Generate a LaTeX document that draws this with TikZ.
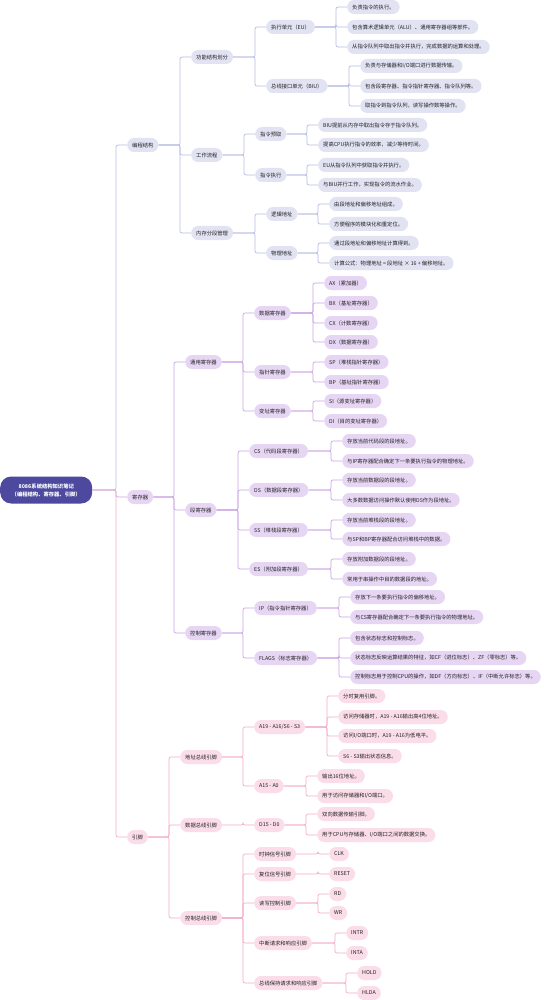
\documentclass[tikz,border=0pt]{standalone}
\usepackage{fontspec}
\setmainfont{Noto Sans CJK SC}
\usetikzlibrary{calc}
\definecolor{rootc}{RGB}{76,73,158}
\definecolor{blueline}{RGB}{182,188,226}
\definecolor{bluefill}{RGB}{225,226,242}
\definecolor{purpline}{RGB}{203,165,228}
\definecolor{purpfill}{RGB}{230,213,243}
\definecolor{pinkline}{RGB}{242,172,203}
\definecolor{pinkfill}{RGB}{250,221,232}
\definecolor{txt}{RGB}{34,34,34}
\tikzset{
  item/.style={anchor=west, rounded corners=7pt, minimum height=14pt, inner xsep=5pt, inner ysep=0pt,
    font=\fontsize{5.3}{6.4}\selectfont, text=txt},
  bluebox/.style={item, fill=bluefill},
  purpbox/.style={item, fill=purpfill},
  pinkbox/.style={item, fill=pinkfill},
  rootbox/.style={anchor=west, fill=rootc, text=white, rounded corners=11pt, minimum width=92pt,
    minimum height=27pt, align=center, font=\fontsize{5.3}{8}\selectfont\bfseries},
  link/.style={line width=0.7pt, rounded corners=2pt},
}
\begin{document}
\begin{tikzpicture}[x=1pt, y=-1pt]
  \fill[white] (0,0) rectangle (543,1000);
  \useasboundingbox (0,0) rectangle (543,1000);
  % root
  \node[rootbox] (root) at (0,490) {8086系统结构知识笔记\\（编程结构、寄存器、引脚）};
  % programming structure
  \node[bluebox] (prog) at (127,145) {编程结构};
  \node[bluebox] (func) at (191,57) {功能结构划分};
  \node[bluebox] (flow) at (191,155) {工作流程};
  \node[bluebox] (seg) at (191,233) {内存分段管理};
  \node[bluebox] (eu) at (266,27) {执行单元（EU）};
  \node[bluebox] (biu) at (266,86) {总线接口单元（BIU）};
  \node[bluebox] (fetch) at (255,134) {指令预取};
  \node[bluebox] (exec) at (255,175) {指令执行};
  \node[bluebox] (logic) at (266,214) {逻辑地址};
  \node[bluebox] (phys) at (266,253) {物理地址};
  \node[bluebox] (eu1) at (347,7) {负责指令的执行。};
  \node[bluebox] (eu2) at (347,27) {包含算术逻辑单元（ALU）、通用寄存器组等部件。};
  \node[bluebox] (eu3) at (347,47) {从指令队列中取出指令并执行，完成数据的运算和处理。};
  \node[bluebox] (biu1) at (360,66) {负责与存储器和I/O端口进行数据传输。};
  \node[bluebox] (biu2) at (360,86) {包含段寄存器、指令指针寄存器、指令队列等。};
  \node[bluebox] (biu3) at (360,106) {取指令到指令队列，读写操作数等操作。};
  \node[bluebox] (fetch1) at (318,125) {BIU提前从内存中取出指令存于指令队列。};
  \node[bluebox] (fetch2) at (318,145) {提高CPU执行指令的效率，减少等待时间。};
  \node[bluebox] (exec1) at (318,165) {EU从指令队列中获取指令并执行。};
  \node[bluebox] (exec2) at (318,185) {与BIU并行工作，实现指令的流水作业。};
  \node[bluebox] (logic1) at (329,204) {由段地址和偏移地址组成。};
  \node[bluebox] (logic2) at (329,224) {方便程序的模块化和重定位。};
  \node[bluebox] (phys1) at (329,243) {通过段地址和偏移地址计算得到。};
  \node[bluebox] (phys2) at (329,263) {计算公式：物理地址 = 段地址 × 16 + 偏移地址。};
  % registers
  \node[purpbox] (reg) at (127,497) {寄存器};
  \node[purpbox] (gen) at (185,362) {通用寄存器};
  \node[purpbox] (segr) at (185,510) {段寄存器};
  \node[purpbox] (ctrl) at (185,633) {控制寄存器};
  \node[purpbox] (data) at (254,313) {数据寄存器};
  \node[purpbox] (ptr) at (254,372) {指针寄存器};
  \node[purpbox] (idx) at (254,411) {变址寄存器};
  \node[purpbox] (ax) at (324,283) {AX（累加器）};
  \node[purpbox] (bx) at (324,303) {BX（基址寄存器）};
  \node[purpbox] (cx) at (324,323) {CX（计数寄存器）};
  \node[purpbox] (dx) at (324,342) {DX（数据寄存器）};
  \node[purpbox] (sp) at (324,362) {SP（堆栈指针寄存器）};
  \node[purpbox] (bp) at (324,382) {BP（基址指针寄存器）};
  \node[purpbox] (si) at (324,401) {SI（源变址寄存器）};
  \node[purpbox] (di) at (324,421) {DI（目的变址寄存器）};
  \node[purpbox] (cs) at (249,451) {CS（代码段寄存器）};
  \node[purpbox] (ds) at (249,490) {DS（数据段寄存器）};
  \node[purpbox] (ss) at (249,530) {SS（堆栈段寄存器）};
  \node[purpbox] (es) at (249,569) {ES（附加段寄存器）};
  \node[purpbox] (cs1) at (342,441) {存放当前代码段的段地址。};
  \node[purpbox] (cs2) at (342,461) {与IP寄存器配合确定下一条要执行指令的物理地址。};
  \node[purpbox] (ds1) at (342,480) {存放当前数据段的段地址。};
  \node[purpbox] (ds2) at (342,500) {大多数数据访问操作默认使用DS作为段地址。};
  \node[purpbox] (ss1) at (342,520) {存放当前堆栈段的段地址。};
  \node[purpbox] (ss2) at (342,539) {与SP和BP寄存器配合访问堆栈中的数据。};
  \node[purpbox] (es1) at (342,559) {存放附加数据段的段地址。};
  \node[purpbox] (es2) at (342,579) {常用于串操作中目的数据段的地址。};
  \node[purpbox] (ip) at (254,608) {IP（指令指针寄存器）};
  \node[purpbox] (flags) at (254,658) {FLAGS（标志寄存器）};
  \node[purpbox] (ip1) at (350,597) {存放下一条要执行指令的偏移地址。};
  \node[purpbox] (ip2) at (350,617) {与CS寄存器配合确定下一条要执行指令的物理地址。};
  \node[purpbox] (fl1) at (350,638) {包含状态标志和控制标志。};
  \node[purpbox] (fl2) at (350,658) {状态标志反映运算结果的特征，如CF（进位标志）、ZF（零标志）等。};
  \node[purpbox] (fl3) at (350,677) {控制标志用于控制CPU的操作，如DF（方向标志）、IF（中断允许标志）等。};
  % pins
  \node[pinkbox] (pin) at (127,837) {引脚};
  \node[pinkbox] (addr) at (180,757) {地址总线引脚};
  \node[pinkbox] (dbus) at (180,825) {数据总线引脚};
  \node[pinkbox] (cbus) at (180,918) {控制总线引脚};
  \node[pinkbox] (ahi) at (254,727) {A19 - A16/S6 - S3};
  \node[pinkbox] (alo) at (254,786) {A15 - A0};
  \node[pinkbox] (ahi1) at (338,696) {分时复用引脚。};
  \node[pinkbox] (ahi2) at (338,717) {访问存储器时，A19 - A16输出高4位地址。};
  \node[pinkbox] (ahi3) at (338,736) {访问I/O端口时，A19 - A16为低电平。};
  \node[pinkbox] (ahi4) at (338,756) {S6 - S3输出状态信息。};
  \node[pinkbox] (alo1) at (317,776) {输出16位地址。};
  \node[pinkbox] (alo2) at (317,796) {用于访问存储器和I/O端口。};
  \node[pinkbox] (dd) at (254,825) {D15 - D0};
  \node[pinkbox] (dd1) at (317,814) {双向数据传输引脚。};
  \node[pinkbox] (dd2) at (317,835) {用于CPU与存储器、I/O端口之间的数据交换。};
  \node[pinkbox] (clk) at (254,854) {时钟信号引脚};
  \node[pinkbox] (rst) at (254,874) {复位信号引脚};
  \node[pinkbox] (rw) at (254,903) {读写控制引脚};
  \node[pinkbox] (irq) at (254,943) {中断请求和响应引脚};
  \node[pinkbox] (hold) at (254,983) {总线保持请求和响应引脚};
  \node[pinkbox] (clk1) at (329,854) {CLK};
  \node[pinkbox] (rst1) at (329,874) {RESET};
  \node[pinkbox] (rd) at (329,894) {RD};
  \node[pinkbox] (wr) at (329,913) {WR};
  \node[pinkbox] (intr) at (346,933) {INTR};
  \node[pinkbox] (inta) at (346,953) {INTA};
  \node[pinkbox] (hld) at (357,973) {HOLD};
  \node[pinkbox] (hlda) at (357,993) {HLDA};
  % connectors
  \foreach \a/\b in {root/prog, prog/func, prog/flow, prog/seg, func/eu, func/biu,
      eu/eu1, eu/eu2, eu/eu3, biu/biu1, biu/biu2, biu/biu3, flow/fetch, flow/exec,
      fetch/fetch1, fetch/fetch2, exec/exec1, exec/exec2, seg/logic, seg/phys,
      logic/logic1, logic/logic2, phys/phys1, phys/phys2}
    \draw[link, blueline] (\a.east) -- ($(\b.west |- \a.east)+(-11,0)$) |- (\b.west);
  \foreach \a/\b in {root/reg, reg/gen, reg/segr, reg/ctrl, gen/data, gen/ptr, gen/idx,
      data/ax, data/bx, data/cx, data/dx, ptr/sp, ptr/bp, idx/si, idx/di,
      segr/cs, segr/ds, segr/ss, segr/es, cs/cs1, cs/cs2, ds/ds1, ds/ds2,
      ss/ss1, ss/ss2, es/es1, es/es2, ctrl/ip, ctrl/flags, ip/ip1, ip/ip2,
      flags/fl1, flags/fl2, flags/fl3}
    \draw[link, purpline] (\a.east) -- ($(\b.west |- \a.east)+(-11,0)$) |- (\b.west);
  \foreach \a/\b in {root/pin, pin/addr, pin/dbus, pin/cbus, addr/ahi, addr/alo,
      ahi/ahi1, ahi/ahi2, ahi/ahi3, ahi/ahi4, alo/alo1, alo/alo2, dbus/dd, dd/dd1, dd/dd2,
      cbus/clk, cbus/rst, cbus/rw, cbus/irq, cbus/hold, clk/clk1, rst/rst1,
      rw/rd, rw/wr, irq/intr, irq/inta, hold/hld, hold/hlda}
    \draw[link, pinkline] (\a.east) -- ($(\b.west |- \a.east)+(-11,0)$) |- (\b.west);
\end{tikzpicture}
\end{document}
